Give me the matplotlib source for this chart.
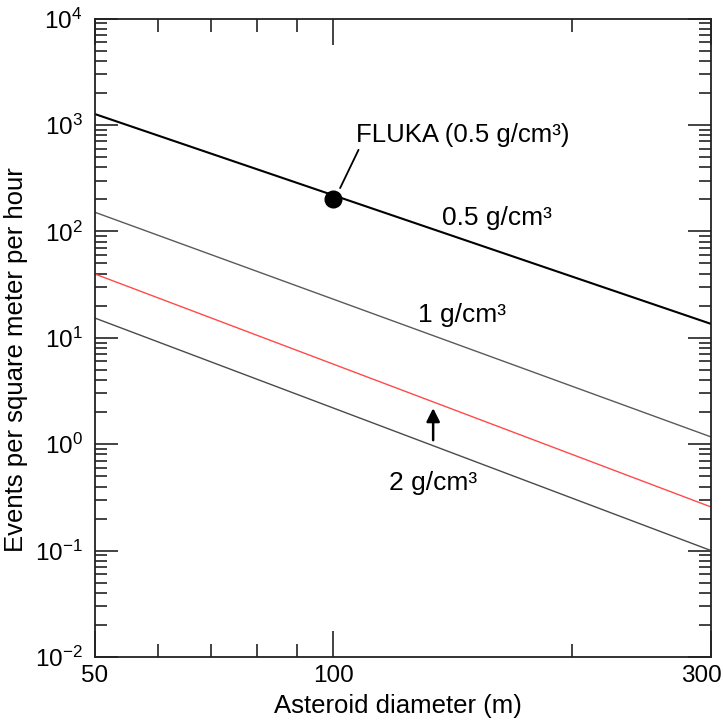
import matplotlib
matplotlib.use("Agg")
import matplotlib.pyplot as plt
import matplotlib.transforms as mtransforms
from matplotlib.ticker import FixedLocator, NullFormatter, LogLocator

plt.rcParams["font.family"] = ["Liberation Sans", "DejaVu Sans"]
plt.rcParams["mathtext.fontset"] = "custom"
plt.rcParams["mathtext.rm"] = "Liberation Sans"
plt.rcParams["mathtext.it"] = "Liberation Sans:italic"
plt.rcParams["axes.unicode_minus"] = False

# straight lines on log-log, endpoints
diameter = [50, 300]
rate_05 = [1265, 13.5]     # 0.5 g/cm3
rate_1 = [151, 1.17]       # 1 g/cm3
rate_red = [39.7, 0.257]   # red curve
rate_2 = [15.3, 0.10]      # 2 g/cm3

fluka_d = [100]
fluka_rate = [200]

x_major = [50, 100, 300]
x_minor = [60, 70, 80, 90, 200]
y_major = [1e-2, 1e-1, 1e0, 1e1, 1e2, 1e3, 1e4]

fig = plt.figure(figsize=(7.23, 7.21), dpi=100)
ax = fig.add_axes([0.1314, 0.0888, 0.852, 0.8855])

ax.plot(diameter, rate_05, color="black", lw=1.5)
ax.plot(diameter, rate_1, color="#5a5a5a", lw=1.0)
ax.plot(diameter, rate_red, color="#ff4a4a", lw=1.0)
ax.plot(diameter, rate_2, color="#4a4a4a", lw=1.0)
ax.plot(fluka_d, fluka_rate, "o", color="black", ms=12)

ax.set_xscale("log")
ax.set_yscale("log")
ax.set_xlim(50, 300)
ax.set_ylim(1e-2, 1e4)

ax.xaxis.set_major_locator(FixedLocator(x_major))
ax.xaxis.set_minor_locator(FixedLocator(x_minor))
ax.set_xticklabels([str(v) for v in x_major])
ax.xaxis.set_minor_formatter(NullFormatter())
ax.yaxis.set_major_locator(FixedLocator(y_major))
ax.yaxis.set_minor_locator(LogLocator(base=10, subs=range(2, 10), numticks=10))
ax.yaxis.set_minor_formatter(NullFormatter())

ax.tick_params(axis="both", which="both", direction="in", top=True, right=True,
               width=1.2, color="#222222")
ax.tick_params(axis="x", which="major", length=19, pad=6, labelsize=17.5)
ax.tick_params(axis="x", which="minor", length=9.5)
ax.tick_params(axis="y", which="major", length=16.5, pad=9, labelsize=17.5)
ax.tick_params(axis="y", which="minor", length=8.6)
for s in ax.spines.values():
    s.set_linewidth(1.3)
    s.set_color("#222222")

# last x label sits just inside the right edge
fig.canvas.draw()
last = ax.get_xticklabels()[-1]
last.set_ha("right")
last.set_transform(last.get_transform() +
                   mtransforms.ScaledTranslation(0.11, 0, fig.dpi_scale_trans))

ax.set_xlabel("Asteroid diameter (m)", fontsize=18.5)
ax.set_ylabel("Events per square meter per hour", fontsize=18.5)
ax.xaxis.set_label_coords(0.491, -0.058)
ax.yaxis.set_label_coords(-0.108, 0.465)

# annotations
ax.annotate("FLUKA (0.5 g/cm³)", xy=(102, 255), xytext=(106.7, 803),
            fontsize=18.5, va="center", ha="left",
            arrowprops=dict(arrowstyle="-", color="black", lw=1.3,
                            shrinkA=0, shrinkB=0, relpos=(0.02, 0.0)))
ax.text(137.3, 133, "0.5 g/cm³", fontsize=19, va="center", ha="left")
ax.text(128, 16.3, "1 g/cm³", fontsize=19, va="center", ha="left")
ax.text(117.6, 0.43, "2 g/cm³", fontsize=19, va="center", ha="left")
ax.annotate("", xy=(133.7, 2.18), xytext=(133.7, 1.09),
            arrowprops=dict(arrowstyle="-|>", color="black", lw=1.8,
                            mutation_scale=20, shrinkA=0, shrinkB=0))

fig.savefig("out.png", dpi=100)
